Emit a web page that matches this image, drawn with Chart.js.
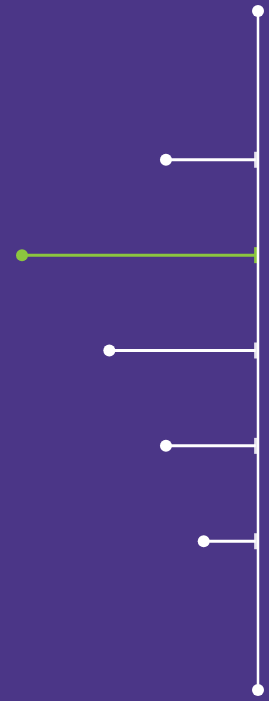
<!DOCTYPE html>
<html>
<head>
<meta charset="utf-8">
<script src="https://cdn.jsdelivr.net/npm/chart.js@4"></script>
<style>
  html, body { margin: 0; padding: 0; background: #4b3687; }
  #wrap { width: 269px; height: 701px; position: relative; }
</style>
</head>
<body>
<div id="wrap"><canvas id="chart"></canvas></div>
<script>
// Lollipop rows, top to bottom (values measured leftwards from the axis)
const rows = [1, 2, 3, 4, 5];
const values = [39, 100, 63, 39, 23];
const highlight = 1;

// Axis extent (in row units) with end dots
const axisTop = -0.56;
const axisBottom = 6.56;

const WHITE = '#ffffff';
const GREEN = '#8cc63f';

const datasets = [];

// the vertical axis line with its end dots
datasets.push({
    type: 'line',
    data: [{ x: 0, y: axisTop }, { x: 0, y: axisBottom }],
    borderColor: WHITE,
    borderWidth: 2.5,
    pointRadius: 6,
    pointBackgroundColor: WHITE,
    pointBorderWidth: 0,
    clip: false,
    order: 0
});

rows.forEach((r, i) => {
    const col = i === highlight ? GREEN : WHITE;
    // stem
    datasets.push({
        type: 'line',
        data: [{ x: values[i], y: r }, { x: 1, y: r }],
        borderColor: col,
        borderWidth: 3,
        pointRadius: 0,
        clip: false,
        order: 3
    });
    // dot
    datasets.push({
        type: 'scatter',
        data: [{ x: values[i], y: r }],
        pointRadius: 6,
        pointBackgroundColor: col,
        pointBorderWidth: 0,
        clip: false,
        order: 2
    });
    // small cap next to the axis
    datasets.push({
        type: 'scatter',
        data: [{ x: 1, y: r }],
        pointStyle: 'line',
        rotation: 90,
        pointRadius: 8,
        borderColor: i === highlight ? GREEN : 'rgba(255,255,255,0.85)',
        borderWidth: 3,
        clip: false,
        order: 1
    });
});

new Chart(document.getElementById('chart').getContext('2d'), {
    type: 'scatter',
    data: { datasets },
    options: {
        responsive: true,
        maintainAspectRatio: false,
        animation: false,
        layout: { padding: { left: 22, right: 8, top: 10, bottom: 11 } },
        plugins: {
            legend: { display: false },
            tooltip: { enabled: false }
        },
        scales: {
            x: { type: 'linear', display: false, reverse: true, min: 0, max: 100 },
            y: { type: 'linear', display: false, reverse: true, min: axisTop, max: axisBottom }
        }
    }
});
</script>
</body>
</html>
